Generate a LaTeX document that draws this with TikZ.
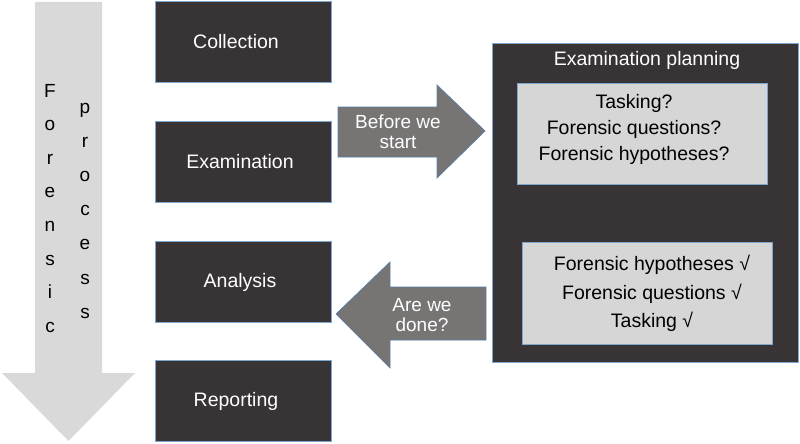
\documentclass[tikz,border=0pt]{standalone}
\usepackage{fontspec}
\setmainfont{Liberation Sans}
\begin{document}
\begin{tikzpicture}[x=1pt,y=-1pt,
  every node/.style={font=\fontsize{19.5}{24}\selectfont},
  darkbox/.style={draw=boxedge,line width=0.8pt,fill=darkfill,text=white,minimum width=176pt,minimum height=81pt,inner sep=0pt},
  lightbox/.style={draw=boxedge,line width=0.8pt,fill=lightfill,text=black,inner sep=0pt},
  grayarrow/.style={draw=arrowedge,line width=0.7pt,fill=arrowfill},
  arrowtext/.style={text=white,align=center,font=\fontsize{19}{20}\selectfont},
  letter/.style={anchor=base,inner sep=0pt,font=\fontsize{19}{20}\selectfont}]
\definecolor{darkfill}{HTML}{383435}
\definecolor{boxedge}{HTML}{7FA6CF}
\definecolor{lightfill}{HTML}{D6D6D6}
\definecolor{arrowfill}{HTML}{777474}
\definecolor{arrowedge}{HTML}{5A7FA8}
\definecolor{bigarrow}{HTML}{D9D9D9}
\useasboundingbox (0,0) rectangle (800,444);
% forensic process arrow
\fill[bigarrow] (35,2) -- (102,2) -- (102,373) -- (135,373) -- (68.5,441) -- (2,373) -- (35,373) -- cycle;
\foreach \l [count=\i] in {F,o,r,e,n,s,i,c}
  \node[letter] (fl\i) at (50,{97+(\i-1)*33.6}) {\l};
\foreach \l [count=\i] in {p,r,o,c,e,s,s}
  \node[letter] (pl\i) at (85,{113+(\i-1)*34.2}) {\l};
% stage boxes
\node[darkbox] (coll) at (243,41.5) {Collection\kern14pt\relax};
\node[darkbox] (exam) at (243,161.5) {Examination\kern6pt\relax};
\node[darkbox] (anal) at (243,282) {Analysis\kern6pt\relax};
\node[darkbox] (rep) at (243,401) {Reporting\kern14pt\relax};
% examination planning
\node[darkbox,minimum width=306pt,minimum height=319pt] (plan) at (645,202.5) {};
\node[text=white] (plantitle) at (647,60) {Examination planning};
\node[lightbox,minimum width=250pt,minimum height=101pt] (q) at (642,133.5) {};
\node[align=center,font=\fontsize{19.5}{26}\selectfont] (qtext) at (634,129) {Tasking?\\Forensic questions?\\Forensic hypotheses?};
\node[lightbox,minimum width=250pt,minimum height=102pt] (a) at (647,293) {};
\node[align=center,font=\fontsize{19.5}{28.5}\selectfont] (atext) at (652,293.5) {Forensic hypotheses √\\Forensic questions √\\Tasking √};
% block arrows
\draw[grayarrow] (338,107) -- (437,107) -- (437,85) -- (485,131) -- (437,178) -- (437,157) -- (338,157) -- cycle;
\node[arrowtext] (before) at (398,132) {Before we\\start};
\draw[grayarrow] (486,287) -- (390,287) -- (390,262) -- (336,314) -- (390,368) -- (390,340) -- (486,340) -- cycle;
\node[arrowtext] (done) at (422,315) {Are we\\done?};
\end{tikzpicture}
\end{document}
